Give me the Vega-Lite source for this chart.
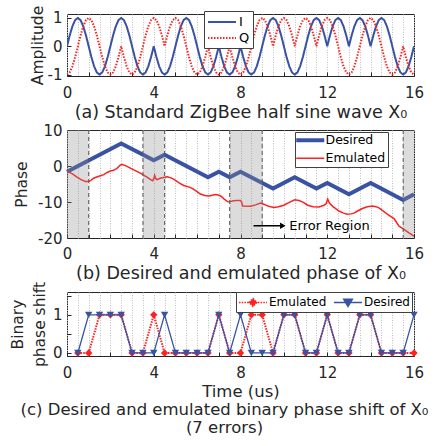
{
"$schema": "https://vega.github.io/schema/vega-lite/v6.json",
"background": "white",
"padding": {"left": 9, "top": 4, "right": 5, "bottom": 5},
"config": {
  "font": "DejaVu Sans",
  "view": {"stroke": "#262626", "strokeWidth": 1},
  "axis": {"domain": false, "labelFont": "DejaVu Sans", "labelFontSize": 15, "labelColor": "#262626", "titleFont": "DejaVu Sans", "titleFontWeight": "normal", "titleColor": "#262626", "tickColor": "#262626", "tickSize": -4, "labelFlush": false, "labelOverlap": false, "labelBound": false},
  "axisY": {"grid": false, "titleFontSize": 15.5, "labelPadding": 9, "labelOverlap": false},
  "legend": {"labelFont": "DejaVu Sans", "labelColor": "#000000", "strokeColor": "#404040", "fillColor": "white"},
  "title": {"font": "DejaVu Sans", "fontWeight": "normal", "color": "#262626"}
},
"datasets": {
  "wave": [
{"t":0,"I":0,"Q":-1},{"t":0.125,"I":0.383,"Q":-0.924},{"t":0.25,"I":0.707,"Q":-0.707},{"t":0.375,"I":0.924,"Q":-0.383},{"t":0.5,"I":1,"Q":0},{"t":0.625,"I":0.924,"Q":0.383},{"t":0.75,"I":0.707,"Q":0.707},{"t":0.875,"I":0.383,"Q":0.924},
{"t":1,"I":0,"Q":1},{"t":1.125,"I":-0.383,"Q":0.924},{"t":1.25,"I":-0.707,"Q":0.707},{"t":1.375,"I":-0.924,"Q":0.383},{"t":1.5,"I":-1,"Q":0},{"t":1.625,"I":-0.924,"Q":-0.383},{"t":1.75,"I":-0.707,"Q":-0.707},{"t":1.875,"I":-0.383,"Q":-0.924},
{"t":2,"I":0,"Q":-1},{"t":2.125,"I":0.383,"Q":-0.924},{"t":2.25,"I":0.707,"Q":-0.707},{"t":2.375,"I":0.924,"Q":-0.383},{"t":2.5,"I":1,"Q":0},{"t":2.625,"I":0.924,"Q":-0.383},{"t":2.75,"I":0.707,"Q":-0.707},{"t":2.875,"I":0.383,"Q":-0.924},
{"t":3,"I":0,"Q":-1},{"t":3.125,"I":-0.383,"Q":-0.924},{"t":3.25,"I":-0.707,"Q":-0.707},{"t":3.375,"I":-0.924,"Q":-0.383},{"t":3.5,"I":-1,"Q":0},{"t":3.625,"I":-0.924,"Q":0.383},{"t":3.75,"I":-0.707,"Q":0.707},{"t":3.875,"I":-0.383,"Q":0.924},
{"t":4,"I":0,"Q":1},{"t":4.125,"I":-0.383,"Q":0.924},{"t":4.25,"I":-0.707,"Q":0.707},{"t":4.375,"I":-0.924,"Q":0.383},{"t":4.5,"I":-1,"Q":0},{"t":4.625,"I":-0.924,"Q":0.383},{"t":4.75,"I":-0.707,"Q":0.707},{"t":4.875,"I":-0.383,"Q":0.924},
{"t":5,"I":0,"Q":1},{"t":5.125,"I":0.383,"Q":0.924},{"t":5.25,"I":0.707,"Q":0.707},{"t":5.375,"I":0.924,"Q":0.383},{"t":5.5,"I":1,"Q":0},{"t":5.625,"I":0.924,"Q":-0.383},{"t":5.75,"I":0.707,"Q":-0.707},{"t":5.875,"I":0.383,"Q":-0.924},
{"t":6,"I":0,"Q":-1},{"t":6.125,"I":-0.383,"Q":-0.924},{"t":6.25,"I":-0.707,"Q":-0.707},{"t":6.375,"I":-0.924,"Q":-0.383},{"t":6.5,"I":-1,"Q":0},{"t":6.625,"I":-0.924,"Q":-0.383},{"t":6.75,"I":-0.707,"Q":-0.707},{"t":6.875,"I":-0.383,"Q":-0.924},
{"t":7,"I":0,"Q":-1},{"t":7.125,"I":-0.383,"Q":-0.924},{"t":7.25,"I":-0.707,"Q":-0.707},{"t":7.375,"I":-0.924,"Q":-0.383},{"t":7.5,"I":-1,"Q":0},{"t":7.625,"I":-0.924,"Q":-0.383},{"t":7.75,"I":-0.707,"Q":-0.707},{"t":7.875,"I":-0.383,"Q":-0.924},
{"t":8,"I":0,"Q":-1},{"t":8.125,"I":-0.383,"Q":-0.924},{"t":8.25,"I":-0.707,"Q":-0.707},{"t":8.375,"I":-0.924,"Q":-0.383},{"t":8.5,"I":-1,"Q":0},{"t":8.625,"I":-0.924,"Q":0.383},{"t":8.75,"I":-0.707,"Q":0.707},{"t":8.875,"I":-0.383,"Q":0.924},
{"t":9,"I":0,"Q":1},{"t":9.125,"I":0.383,"Q":0.924},{"t":9.25,"I":0.707,"Q":0.707},{"t":9.375,"I":0.924,"Q":0.383},{"t":9.5,"I":1,"Q":0},{"t":9.625,"I":0.924,"Q":0.383},{"t":9.75,"I":0.707,"Q":0.707},{"t":9.875,"I":0.383,"Q":0.924},
{"t":10,"I":0,"Q":1},{"t":10.125,"I":-0.383,"Q":0.924},{"t":10.25,"I":-0.707,"Q":0.707},{"t":10.375,"I":-0.924,"Q":0.383},{"t":10.5,"I":-1,"Q":0},{"t":10.625,"I":-0.924,"Q":0.383},{"t":10.75,"I":-0.707,"Q":0.707},{"t":10.875,"I":-0.383,"Q":0.924},
{"t":11,"I":0,"Q":1},{"t":11.125,"I":0.383,"Q":0.924},{"t":11.25,"I":0.707,"Q":0.707},{"t":11.375,"I":0.924,"Q":0.383},{"t":11.5,"I":1,"Q":0},{"t":11.625,"I":0.924,"Q":0.383},{"t":11.75,"I":0.707,"Q":0.707},{"t":11.875,"I":0.383,"Q":0.924},
{"t":12,"I":0,"Q":1},{"t":12.125,"I":0.383,"Q":0.924},{"t":12.25,"I":0.707,"Q":0.707},{"t":12.375,"I":0.924,"Q":0.383},{"t":12.5,"I":1,"Q":0},{"t":12.625,"I":0.924,"Q":-0.383},{"t":12.75,"I":0.707,"Q":-0.707},{"t":12.875,"I":0.383,"Q":-0.924},
{"t":13,"I":0,"Q":-1},{"t":13.125,"I":0.383,"Q":-0.924},{"t":13.25,"I":0.707,"Q":-0.707},{"t":13.375,"I":0.924,"Q":-0.383},{"t":13.5,"I":1,"Q":0},{"t":13.625,"I":0.924,"Q":0.383},{"t":13.75,"I":0.707,"Q":0.707},{"t":13.875,"I":0.383,"Q":0.924},
{"t":14,"I":0,"Q":1},{"t":14.125,"I":0.383,"Q":0.924},{"t":14.25,"I":0.707,"Q":0.707},{"t":14.375,"I":0.924,"Q":0.383},{"t":14.5,"I":1,"Q":0},{"t":14.625,"I":0.924,"Q":-0.383},{"t":14.75,"I":0.707,"Q":-0.707},{"t":14.875,"I":0.383,"Q":-0.924},
{"t":15,"I":0,"Q":-1},{"t":15.125,"I":-0.383,"Q":-0.924},{"t":15.25,"I":-0.707,"Q":-0.707},{"t":15.375,"I":-0.924,"Q":-0.383},{"t":15.5,"I":-1,"Q":0},{"t":15.625,"I":-0.924,"Q":-0.383},{"t":15.75,"I":-0.707,"Q":-0.707},{"t":15.875,"I":-0.383,"Q":-0.924},
{"t":16,"I":0,"Q":-1}
  ],
  "phase": [
{"t":0,"s":"Desired","v":-1.571},{"t":2.5,"s":"Desired","v":6.283},{"t":4,"s":"Desired","v":1.571},{"t":4.5,"s":"Desired","v":3.142},{"t":6.5,"s":"Desired","v":-3.142},{"t":7,"s":"Desired","v":-1.571},{"t":7.5,"s":"Desired","v":-3.142},{"t":8,"s":"Desired","v":-1.571},{"t":9.5,"s":"Desired","v":-6.283},{"t":10.5,"s":"Desired","v":-3.142},{"t":11.5,"s":"Desired","v":-6.283},{"t":12,"s":"Desired","v":-4.712},{"t":13,"s":"Desired","v":-7.854},{"t":14,"s":"Desired","v":-4.712},{"t":15.5,"s":"Desired","v":-9.425},{"t":16,"s":"Desired","v":-7.854},
{"t":0,"s":"Emulated","v":-1.4},{"t":0.25,"s":"Emulated","v":-2.2},{"t":0.46,"s":"Emulated","v":-3.1},{"t":0.65,"s":"Emulated","v":-3.8},{"t":0.85,"s":"Emulated","v":-4.3},{"t":1.0,"s":"Emulated","v":-4.3},{"t":1.1,"s":"Emulated","v":-4.0},{"t":1.23,"s":"Emulated","v":-3.4},{"t":1.4,"s":"Emulated","v":-3.0},{"t":1.54,"s":"Emulated","v":-2.7},{"t":1.7,"s":"Emulated","v":-2.4},{"t":1.85,"s":"Emulated","v":-1.8},{"t":2.0,"s":"Emulated","v":-1.4},{"t":2.15,"s":"Emulated","v":-1.2},{"t":2.3,"s":"Emulated","v":-0.7},{"t":2.46,"s":"Emulated","v":0.3},{"t":2.55,"s":"Emulated","v":0.4},{"t":2.7,"s":"Emulated","v":0.1},{"t":2.92,"s":"Emulated","v":-0.6},{"t":3.15,"s":"Emulated","v":-1.3},{"t":3.38,"s":"Emulated","v":-2.0},{"t":3.55,"s":"Emulated","v":-2.6},{"t":3.69,"s":"Emulated","v":-3.1},{"t":3.85,"s":"Emulated","v":-3.8},{"t":3.95,"s":"Emulated","v":-4.1},{"t":4.0,"s":"Emulated","v":-3.6},{"t":4.04,"s":"Emulated","v":-2.6},{"t":4.1,"s":"Emulated","v":-3.6},{"t":4.15,"s":"Emulated","v":-3.8},{"t":4.3,"s":"Emulated","v":-3.4},{"t":4.45,"s":"Emulated","v":-3.2},{"t":4.62,"s":"Emulated","v":-3.0},{"t":4.8,"s":"Emulated","v":-3.3},{"t":4.95,"s":"Emulated","v":-3.8},{"t":5.15,"s":"Emulated","v":-4.6},{"t":5.38,"s":"Emulated","v":-5.4},{"t":5.6,"s":"Emulated","v":-5.8},{"t":5.77,"s":"Emulated","v":-6.2},{"t":5.95,"s":"Emulated","v":-6.9},{"t":6.15,"s":"Emulated","v":-7.8},{"t":6.35,"s":"Emulated","v":-8.2},{"t":6.54,"s":"Emulated","v":-8.3},{"t":6.7,"s":"Emulated","v":-8.1},{"t":6.85,"s":"Emulated","v":-7.9},{"t":7.0,"s":"Emulated","v":-8.1},{"t":7.1,"s":"Emulated","v":-8.4},{"t":7.25,"s":"Emulated","v":-9.2},{"t":7.4,"s":"Emulated","v":-9.9},{"t":7.5,"s":"Emulated","v":-10.0},{"t":7.62,"s":"Emulated","v":-9.7},{"t":7.8,"s":"Emulated","v":-9.6},{"t":8.0,"s":"Emulated","v":-9.6},{"t":8.05,"s":"Emulated","v":-10.0},{"t":8.1,"s":"Emulated","v":-11.1},{"t":8.46,"s":"Emulated","v":-11.2},{"t":8.7,"s":"Emulated","v":-10.8},{"t":8.92,"s":"Emulated","v":-10.3},{"t":9.1,"s":"Emulated","v":-10.7},{"t":9.3,"s":"Emulated","v":-11.2},{"t":9.54,"s":"Emulated","v":-11.5},{"t":9.75,"s":"Emulated","v":-11.3},{"t":10.0,"s":"Emulated","v":-10.9},{"t":10.25,"s":"Emulated","v":-10.1},{"t":10.5,"s":"Emulated","v":-9.4},{"t":10.7,"s":"Emulated","v":-9.6},{"t":10.9,"s":"Emulated","v":-10.1},{"t":11.1,"s":"Emulated","v":-10.9},{"t":11.35,"s":"Emulated","v":-11.3},{"t":11.62,"s":"Emulated","v":-11.4},{"t":11.85,"s":"Emulated","v":-10.9},{"t":11.95,"s":"Emulated","v":-10.5},{"t":12.02,"s":"Emulated","v":-9.2},{"t":12.1,"s":"Emulated","v":-10.3},{"t":12.25,"s":"Emulated","v":-11.2},{"t":12.54,"s":"Emulated","v":-12.5},{"t":12.75,"s":"Emulated","v":-13.1},{"t":12.92,"s":"Emulated","v":-13.4},{"t":13.1,"s":"Emulated","v":-13.3},{"t":13.23,"s":"Emulated","v":-13.1},{"t":13.4,"s":"Emulated","v":-12.5},{"t":13.62,"s":"Emulated","v":-11.8},{"t":13.85,"s":"Emulated","v":-11.3},{"t":14.08,"s":"Emulated","v":-11.1},{"t":14.25,"s":"Emulated","v":-11.3},{"t":14.4,"s":"Emulated","v":-11.7},{"t":14.6,"s":"Emulated","v":-12.6},{"t":14.77,"s":"Emulated","v":-13.4},{"t":14.95,"s":"Emulated","v":-14.1},{"t":15.08,"s":"Emulated","v":-14.6},{"t":15.2,"s":"Emulated","v":-15.7},{"t":15.31,"s":"Emulated","v":-16.7},{"t":15.54,"s":"Emulated","v":-17.6},{"t":15.75,"s":"Emulated","v":-18.5},{"t":16,"s":"Emulated","v":-19.5}
  ],
  "regions": [{"t":0,"t2":1},{"t":3.5,"t2":4.5},{"t":7.5,"t2":9},{"t":15.5,"t2":16}],
  "edges": [{"t":1},{"t":3.5},{"t":4.5},{"t":7.5},{"t":9},{"t":15.5}],
  "note": [{"t":8.6,"t2":9.95,"v":-16.6,"tx":10.25,"label":"Error Region"}],
  "bin": [
{"t":0.5,"s":"Emulated","v":0},{"t":1,"s":"Emulated","v":0},{"t":1.5,"s":"Emulated","v":1},{"t":2,"s":"Emulated","v":1},{"t":2.5,"s":"Emulated","v":1},{"t":3,"s":"Emulated","v":0},{"t":3.5,"s":"Emulated","v":0},{"t":4,"s":"Emulated","v":1},{"t":4.5,"s":"Emulated","v":0},{"t":5,"s":"Emulated","v":0},{"t":5.5,"s":"Emulated","v":0},{"t":6,"s":"Emulated","v":0},{"t":6.5,"s":"Emulated","v":0},{"t":7,"s":"Emulated","v":1},{"t":7.5,"s":"Emulated","v":0},{"t":8,"s":"Emulated","v":0},{"t":8.5,"s":"Emulated","v":1},{"t":9,"s":"Emulated","v":1},{"t":9.5,"s":"Emulated","v":0},{"t":10,"s":"Emulated","v":1},{"t":10.5,"s":"Emulated","v":1},{"t":11,"s":"Emulated","v":0},{"t":11.5,"s":"Emulated","v":0},{"t":12,"s":"Emulated","v":1},{"t":12.5,"s":"Emulated","v":0},{"t":13,"s":"Emulated","v":0},{"t":13.5,"s":"Emulated","v":1},{"t":14,"s":"Emulated","v":1},{"t":14.5,"s":"Emulated","v":0},{"t":15,"s":"Emulated","v":0},{"t":15.5,"s":"Emulated","v":0},{"t":16,"s":"Emulated","v":0},
{"t":0.5,"s":"Desired","v":0},{"t":1,"s":"Desired","v":1},{"t":1.5,"s":"Desired","v":1},{"t":2,"s":"Desired","v":1},{"t":2.5,"s":"Desired","v":1},{"t":3,"s":"Desired","v":0},{"t":3.5,"s":"Desired","v":0},{"t":4,"s":"Desired","v":0},{"t":4.5,"s":"Desired","v":1},{"t":5,"s":"Desired","v":0},{"t":5.5,"s":"Desired","v":0},{"t":6,"s":"Desired","v":0},{"t":6.5,"s":"Desired","v":0},{"t":7,"s":"Desired","v":1},{"t":7.5,"s":"Desired","v":0},{"t":8,"s":"Desired","v":1},{"t":8.5,"s":"Desired","v":0},{"t":9,"s":"Desired","v":0},{"t":9.5,"s":"Desired","v":0},{"t":10,"s":"Desired","v":1},{"t":10.5,"s":"Desired","v":1},{"t":11,"s":"Desired","v":0},{"t":11.5,"s":"Desired","v":0},{"t":12,"s":"Desired","v":1},{"t":12.5,"s":"Desired","v":0},{"t":13,"s":"Desired","v":0},{"t":13.5,"s":"Desired","v":1},{"t":14,"s":"Desired","v":1},{"t":14.5,"s":"Desired","v":0},{"t":15,"s":"Desired","v":0},{"t":15.5,"s":"Desired","v":0},{"t":16,"s":"Desired","v":1}
  ]
},
"bounds": "flush",
"spacing": 54,
"resolve": {
  "scale": {"color": "independent", "strokeDash": "independent", "strokeWidth": "independent", "shape": "independent", "x": "independent", "y": "independent"},
  "legend": {"color": "independent", "strokeDash": "independent", "strokeWidth": "independent", "shape": "independent"}
},
"vconcat": [
{
  "width": 347, "height": 62,
  "data": {"name": "wave"},
  "transform": [{"fold": ["I", "Q"], "as": ["ch", "amp"]}],
  "mark": {"type": "line", "strokeWidth": 2, "clip": true},
  "encoding": {
    "x": {"field": "t", "type": "quantitative", "scale": {"domain": [0, 16], "nice": false},
      "axis": {"values": [0,0.5,1,1.5,2,2.5,3,3.5,4,4.5,5,5.5,6,6.5,7,7.5,8,8.5,9,9.5,10,10.5,11,11.5,12,12.5,13,13.5,14,14.5,15,15.5,16],
        "labelExpr": "datum.value % 4 === 0 ? toString(datum.value) : ''", "labelOverlap": false, "grid": true, "gridDash": [1, 1.5], "gridColor": "#bfbfbf",
        "tickOpacity": {"condition": {"test": "datum.value % 1 === 0", "value": 1}, "value": 0},
        "labelPadding": 13, "title": "(a) Standard ZigBee half sine wave X₀", "titleFontSize": 17.5, "titlePadding": 3}},
    "y": {"field": "amp", "type": "quantitative", "scale": {"domain": [-1.05, 1.14], "nice": false, "zero": false},
      "axis": {"values": [-1, 0, 1], "labelExpr": "toString(datum.value)", "labelOverlap": false, "title": "Amplitude", "titlePadding": 2}},
    "color": {"field": "ch", "type": "nominal", "scale": {"domain": ["I", "Q"], "range": ["#3953a4", "#ff2020"]},
      "legend": {"orient": "none", "legendX": 137, "legendY": -3, "title": null, "symbolType": "M-1,0H3", "symbolSize": 196, "symbolStrokeWidth": 2, "labelFontSize": 13, "padding": 3, "rowPadding": 1, "labelOffset": 16}},
    "strokeDash": {"field": "ch", "type": "nominal", "scale": {"domain": ["I", "Q"], "range": [[1, 0], [1.5, 1.5]]},
      "legend": {"orient": "none", "legendX": 137, "legendY": -3, "title": null, "symbolType": "M-1,0H3", "symbolSize": 196, "symbolStrokeWidth": 2, "labelFontSize": 13, "padding": 3, "rowPadding": 1, "labelOffset": 16}}
  }
},
{
  "width": 347, "height": 108,
  "encoding": {
    "x": {"field": "t", "type": "quantitative", "scale": {"domain": [0, 16], "nice": false},
      "axis": {"values": [0,0.5,1,1.5,2,2.5,3,3.5,4,4.5,5,5.5,6,6.5,7,7.5,8,8.5,9,9.5,10,10.5,11,11.5,12,12.5,13,13.5,14,14.5,15,15.5,16],
        "labelExpr": "datum.value % 4 === 0 ? toString(datum.value) : ''", "labelOverlap": false, "grid": true, "gridDash": [1, 1.5], "gridColor": "#bfbfbf",
        "tickOpacity": {"condition": {"test": "datum.value % 1 === 0", "value": 1}, "value": 0},
        "labelPadding": 12, "title": "(b) Desired and emulated phase of  X₀", "titleFontSize": 17.5, "titlePadding": 3}},
    "y": {"field": "v", "type": "quantitative", "scale": {"domain": [-20, 10], "nice": false, "zero": false},
      "axis": {"values": [-20, -10, 0, 10], "labelExpr": "toString(datum.value)", "labelOverlap": false, "title": "Phase", "titlePadding": 8}}
  },
  "layer": [
    {
      "data": {"name": "phase"},
      "transform": [{"filter": "datum.s === 'Desired'"}],
      "mark": {"type": "line", "strokeWidth": 4},
      "encoding": {
        "color": {"field": "s", "type": "nominal", "scale": {"domain": ["Desired", "Emulated"], "range": ["#3953a4", "#ff2020"]},
          "legend": {"orient": "none", "legendX": 228, "legendY": 2, "title": null, "symbolType": "M-1,0H3", "symbolSize": 196, "labelFontSize": 12.5, "padding": 2, "rowPadding": 3, "labelOffset": 16,
            "encode": {"symbols": {"update": {"strokeWidth": {"signal": "datum.value === 'Desired' ? 4 : 1.5"}, "opacity": {"value": 1}}}}}}
      }
    },
    {
      "data": {"name": "phase"},
      "transform": [{"filter": "datum.s === 'Emulated'"}],
      "mark": {"type": "line", "strokeWidth": 1.5},
      "encoding": {"color": {"field": "s", "type": "nominal"}}
    },
    {
      "data": {"name": "regions"},
      "mark": {"type": "rect", "color": "#8c8c8c", "opacity": 0.3},
      "encoding": {"x2": {"field": "t2"}, "y": {"value": 0}, "y2": {"value": "height"}}
    },
    {
      "data": {"name": "edges"},
      "mark": {"type": "rule", "strokeDash": [4, 3], "color": "#595959", "strokeWidth": 1},
      "encoding": {"y": {"value": 0}, "y2": {"value": "height"}}
    },
    {
      "data": {"name": "note"},
      "mark": {"type": "rule", "color": "#000000", "strokeWidth": 1.5},
      "encoding": {"x2": {"field": "t2"}}
    },
    {
      "data": {"name": "note"},
      "mark": {"type": "point", "shape": "triangle-right", "filled": true, "color": "#000000", "size": 40, "opacity": 1},
      "encoding": {"x": {"field": "t2", "type": "quantitative"}}
    },
    {
      "data": {"name": "note"},
      "mark": {"type": "text", "align": "left", "baseline": "middle", "fontSize": 13, "color": "#000000"},
      "encoding": {"x": {"field": "tx", "type": "quantitative"}, "text": {"field": "label"}}
    }
  ]
},
{
  "width": 347, "height": 64,
  "data": {"name": "bin"},
  "title": {"text": ["(c) Desired and emulated binary phase shift of  X₀", "(7 errors)"], "orient": "bottom", "anchor": "middle", "fontSize": 16.5, "lineHeight": 18, "offset": 2, "dx": -16},
  "encoding": {
    "x": {"field": "t", "type": "quantitative", "scale": {"domain": [0, 16], "nice": false},
      "axis": {"values": [0,0.5,1,1.5,2,2.5,3,3.5,4,4.5,5,5.5,6,6.5,7,7.5,8,8.5,9,9.5,10,10.5,11,11.5,12,12.5,13,13.5,14,14.5,15,15.5,16],
        "labelExpr": "datum.value % 4 === 0 ? toString(datum.value) : ''", "labelOverlap": false, "grid": true, "gridDash": [1, 1.5], "gridColor": "#bfbfbf",
        "tickOpacity": {"condition": {"test": "datum.value % 1 === 0", "value": 1}, "value": 0},
        "labelPadding": 13, "title": "Time (us)", "titleFontSize": 16.5, "titlePadding": 3}},
    "y": {"field": "v", "type": "quantitative", "scale": {"domain": [-0.08, 1.6], "nice": false, "zero": false},
      "axis": {"values": [0, 0.5, 1, 1.5], "labelExpr": "datum.value === 0 || datum.value === 1 ? toString(datum.value) : ''", "labelOverlap": false, "title": ["Binary", "phase shift"], "titleLineHeight": 22, "titlePadding": 5}},
    "color": {"field": "s", "type": "nominal", "scale": {"domain": ["Emulated", "Desired"], "range": ["#ff2020", "#3953a4"]},
      "legend": {"orient": "none", "legendX": 169, "legendY": 0, "direction": "horizontal", "title": null, "symbolSize": 196, "labelFontSize": 12, "padding": 2, "columnPadding": 3, "labelOffset": 15,
        "encode": {"symbols": {"update": {
          "shape": {"signal": "datum.value === 'Emulated' ? 'M-1,0H3M1,-0.55L1.55,0L1,0.55L0.45,0Z' : 'M-1,0H3M0.4,-0.45L1.6,-0.45L1,0.55Z'"},
          "fill": {"signal": "datum.value === 'Emulated' ? '#ff2020' : '#3953a4'"},
          "stroke": {"signal": "datum.value === 'Emulated' ? '#ff2020' : '#3953a4'"},
          "strokeDash": {"signal": "datum.value === 'Emulated' ? [1.5, 1.2] : [1, 0]"},
          "strokeWidth": {"value": 1.6},
          "opacity": {"value": 1},
          "fillOpacity": {"value": 1}}}}}}
  },
  "layer": [
    {
      "transform": [{"filter": "datum.s === 'Emulated'"}],
      "mark": {"type": "line", "strokeWidth": 2, "strokeDash": [1.5, 1.2]}
    },
    {
      "transform": [{"filter": "datum.s === 'Emulated'"}],
      "mark": {"type": "point", "shape": "diamond", "filled": true, "size": 55, "opacity": 1}
    },
    {
      "transform": [{"filter": "datum.s === 'Desired'"}],
      "mark": {"type": "line", "strokeWidth": 1.3}
    },
    {
      "transform": [{"filter": "datum.s === 'Desired'"}],
      "mark": {"type": "point", "shape": "triangle-down", "filled": true, "size": 55, "opacity": 1}
    }
  ]
}
]
}
